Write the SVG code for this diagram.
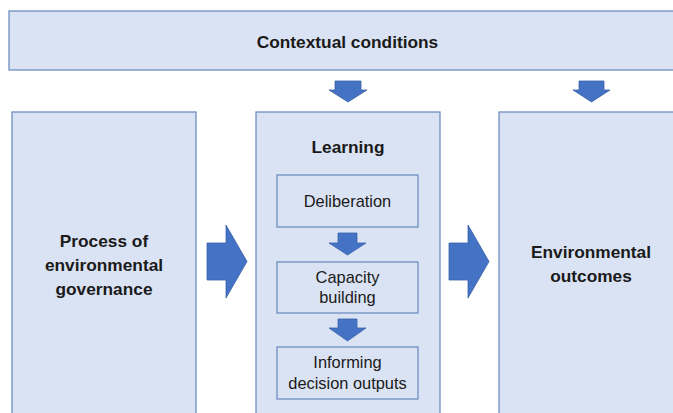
<svg xmlns="http://www.w3.org/2000/svg" width="673" height="413" viewBox="0 0 673 413">
  <style>
    .box { fill: #dae3f3; stroke: #6f8fc2; stroke-width: 1.3; }
    .arrow { fill: #4472c4; stroke: #3a62a8; stroke-width: 0.8; }
    .title { font-family: "Liberation Sans", Arial, sans-serif; font-weight: bold; font-size: 17.3px; fill: #1a1a1a; text-anchor: middle; }
    .label { font-family: "Liberation Sans", Arial, sans-serif; font-size: 16.4px; fill: #1a1a1a; text-anchor: middle; }
  </style>

  <g id="contextual-conditions">
    <rect class="box" x="9" y="11" width="670" height="59"/>
    <text class="title" x="347.5" y="48">Contextual conditions</text>
  </g>

  <g id="process-of-governance">
    <rect class="box" x="12" y="112" width="184" height="310"/>
    <text class="title" x="104" y="247">Process of</text>
    <text class="title" x="104" y="271">environmental</text>
    <text class="title" x="104" y="295">governance</text>
  </g>

  <g id="learning">
    <rect class="box" x="256" y="112" width="184" height="310"/>
    <text class="title" x="348" y="153">Learning</text>
  </g>

  <g id="deliberation">
    <rect class="box" x="277" y="175" width="141" height="52"/>
    <text class="label" x="347.5" y="207">Deliberation</text>
  </g>

  <g id="capacity-building">
    <rect class="box" x="277" y="262" width="141" height="51"/>
    <text class="label" x="347.5" y="283">Capacity</text>
    <text class="label" x="347.5" y="303">building</text>
  </g>

  <g id="informing-decision-outputs">
    <rect class="box" x="277" y="347" width="141" height="52"/>
    <text class="label" x="347.5" y="368">Informing</text>
    <text class="label" x="347.5" y="389">decision outputs</text>
  </g>

  <g id="environmental-outcomes">
    <rect class="box" x="499" y="112" width="184" height="310"/>
    <text class="title" x="591" y="258">Environmental</text>
    <text class="title" x="591" y="282">outcomes</text>
  </g>

  <g id="connectors">
    <!-- context into learning and outcomes -->
    <polygon class="arrow" points="335,81 361,81 361,90 367,90 348,102 329,90 335,90"/>
    <polygon class="arrow" points="579,81 604,81 604,90 610,90 591.5,102 573,90 579,90"/>
    <!-- governance to learning, learning to outcomes -->
    <polygon class="arrow" points="207,243 226,243 226,225 247,261.5 226,298 226,280 207,280"/>
    <polygon class="arrow" points="449,243 468,243 468,225 489,261.5 468,298 468,280 449,280"/>
    <!-- steps inside learning -->
    <polygon class="arrow" points="338,233 357,233 357,243 366,243 347.5,255 329,243 338,243"/>
    <polygon class="arrow" points="338,319 357,319 357,328 366,328 347.5,341 329,328 338,328"/>
  </g>
</svg>
